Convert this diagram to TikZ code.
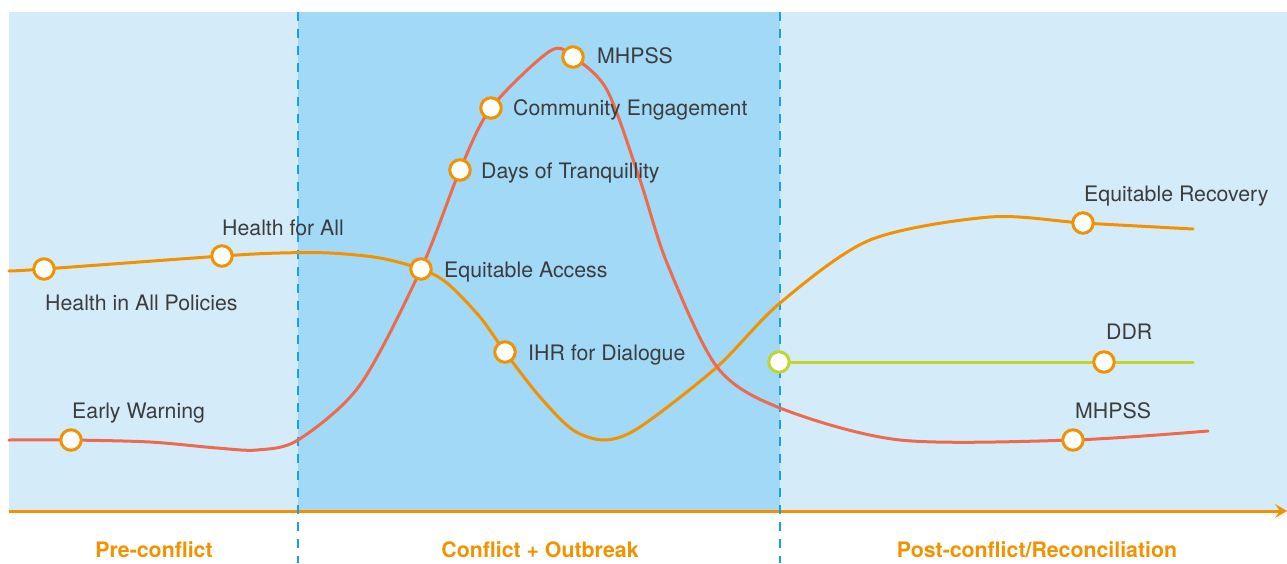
\documentclass[tikz,border=0pt]{standalone}
\usepackage{fontspec}
\setmainfont{TeX Gyre Heros}
\usetikzlibrary{arrows.meta}
\definecolor{lightbg}{HTML}{D4ECFA}
\definecolor{darkbg}{HTML}{A1D9F7}
\definecolor{dashblue}{HTML}{1A9FE0}
\definecolor{orangec}{HTML}{F39200}
\definecolor{redc}{HTML}{EE6A4C}
\definecolor{greenc}{HTML}{BED62F}
\definecolor{txt}{HTML}{3C3C3C}
\begin{document}
\begin{tikzpicture}[x=1pt,y=-1pt,
  dot/.style={circle,draw=orangec,line width=3pt,fill=white,minimum size=20.5pt,inner sep=0pt},
  gdot/.style={dot,draw=greenc},
  lbl/.style={anchor=base west,inner sep=0pt,text=txt,font=\fontsize{21.3}{25}\selectfont},
  phase/.style={anchor=base,inner sep=0pt,text=orangec,font=\fontsize{21.3}{25}\selectfont\bfseries},
  divider/.style={draw=dashblue,line width=2.5pt,dash pattern=on 9pt off 8pt},
  curve/.style={line width=3pt,line join=round,line cap=round}]
\useasboundingbox (0,0) rectangle (1287,563);
\fill[lightbg] (9,12) rectangle (1287,511);
\fill[darkbg] (298,12) rectangle (780,511);
% key points
\coordinate (hiap) at (44,269);
\coordinate (hfa) at (222,256);
\coordinate (ea) at (421,269);
\coordinate (ihr) at (505,352);
\coordinate (dot) at (460,170);
\coordinate (ce) at (491,108);
\coordinate (mh1) at (573,57);
\coordinate (ew) at (71,440);
\coordinate (mh2) at (1073,440);
\coordinate (ddr) at (1104,362);
\coordinate (er) at (1083,223);
\coordinate (gs) at (779,362);
\coordinate (ge) at (1193,362);
\coordinate (ax0) at (9,511);
\coordinate (ax1) at (1287,511);
\coordinate (d1t) at (298,12);
\coordinate (d1b) at (298,563);
\coordinate (d2t) at (780,12);
\coordinate (d2b) at (780,563);
% axis
\draw[orangec,line width=3pt,-{Stealth[length=12pt,width=14pt,inset=5pt]}] (ax0) -- (ax1);
% dividers
\draw[divider] (d1t) -- (d1b);
\draw[divider] (d2t) -- (d2b);
% curves
\draw[curve,orangec] plot[smooth,tension=0.5] coordinates {(9,271) (hiap) (hfa) (280,253) (330,253) (380,258) (ea) (447,283) (480,317) (ihr) (540,397) (573,430) (605,440) (640,427) (717,367) (780,303) (870,240) (990,217) (er) (1193,229)};
\draw[curve,redc] plot[smooth,tension=0.5] coordinates {(9,440) (ew) (150,442) (217,448) (257,450) (298,440) (360,385) (ea) (dot) (ce) (550,51) (mh1) (607,90) (640,180) (667,263) (717,367) (780,408) (900,440) (mh2) (1208,431)};
\draw[curve,greenc] (gs) -- (ge);
% markers
\node[dot] (nhiap) at (hiap) {};
\node[dot] (nhfa) at (hfa) {};
\node[dot] (nea) at (ea) {};
\node[dot] (nihr) at (ihr) {};
\node[dot] (ndot) at (dot) {};
\node[dot] (nce) at (ce) {};
\node[dot] (nmh1) at (mh1) {};
\node[dot] (new) at (ew) {};
\node[dot] (nmh2) at (mh2) {};
\node[dot] (nddr) at (ddr) {};
\node[dot] (ner) at (er) {};
\node[gdot] (ngs) at (gs) {};
% labels
\node[lbl] (t1) at (45,310) {Health in All Policies};
\node[lbl] (t2) at (222,235) {Health for All};
\node[lbl] (t3) at (444,277) {Equitable Access};
\node[lbl] (t4) at (528,360) {IHR for Dialogue};
\node[lbl] (t5) at (481,178) {Days of Tranquillity};
\node[lbl] (t6) at (513,115) {Community Engagement};
\node[lbl] (t7) at (597,63) {MHPSS};
\node[lbl] (t8) at (72,418) {Early Warning};
\node[lbl] (t9) at (1075,418) {MHPSS};
\node[lbl] (t10) at (1106,339) {DDR};
\node[lbl] (t11) at (1084,201) {Equitable Recovery};
\node[phase] (p1) at (154,557) {Pre-conflict};
\node[phase] (p2) at (540,557) {Conflict + Outbreak};
\node[phase] (p3) at (1037,557) {Post-conflict/Reconciliation};
\end{tikzpicture}
\end{document}
